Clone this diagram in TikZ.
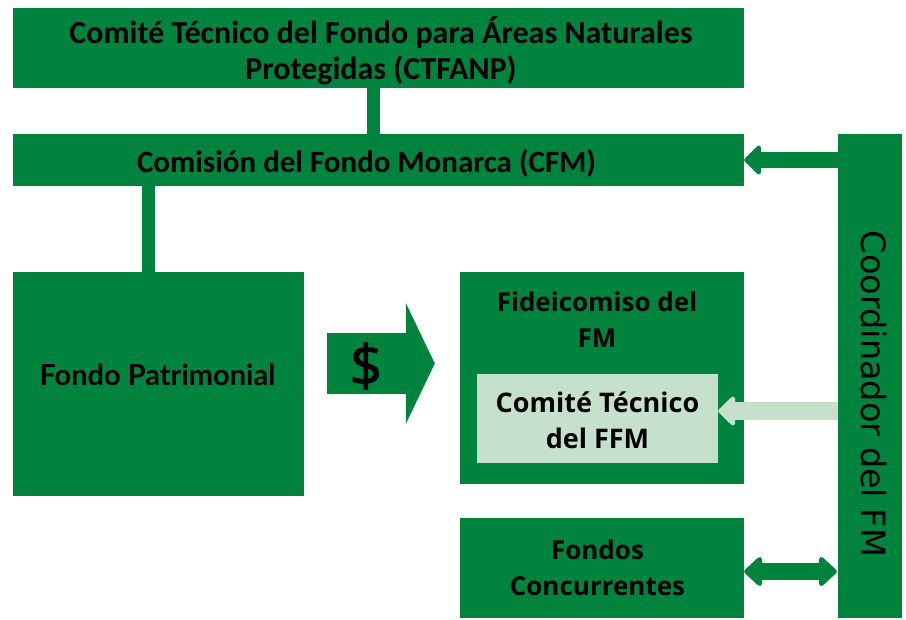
\documentclass[tikz,border=0pt]{standalone}
\usepackage{fontspec}
\setmainfont{Carlito}
\newfontfamily\latofont{Lato}
\newfontfamily\osfont{Open Sans}
\newfontfamily\djfont{DejaVu Sans}
\usetikzlibrary{arrows.meta}
\definecolor{fmgreen}{RGB}{0,132,61}
\definecolor{fmlight}{RGB}{197,224,203}
\tikzset{
  gbox/.style={fill=fmgreen, draw=none, inner sep=0pt, align=center, text=black},
  lbox/.style={fill=fmlight, draw=none, inner sep=0pt, align=center, text=black},
  link/.style={draw=fmgreen, line width=13pt},
  txt/.style={inner sep=0pt, align=center, text=black},
}
\begin{document}
\begin{tikzpicture}[x=1pt,y=-1pt]
\useasboundingbox (0,0) rectangle (906,620);
% boxes
\node[gbox, minimum width=731pt, minimum height=80pt] (ctfanp) at (378.5,48) {};
\node[txt, font=\bfseries\fontsize{32}{36}\selectfont] (ctfanpt) at (381,51) {Comité Técnico del Fondo para Áreas Naturales\\Protegidas (CTFANP)};
\node[gbox, minimum width=731pt, minimum height=52pt] (cfm) at (378.5,160) {};
\node[txt, font=\bfseries\fontsize{31}{36}\selectfont] (cfmt) at (366.5,163) {Comisión del Fondo Monarca (CFM)};
\node[gbox, minimum width=291pt, minimum height=224pt] (fp) at (158.5,384) {};
\node[txt, font=\latofont\bfseries\fontsize{29}{34}\selectfont] (fpt) at (157.5,375) {Fondo Patrimonial};
\node[gbox, minimum width=284pt, minimum height=212pt] (fid) at (602,378) {};
\node[txt, font=\osfont\bfseries\fontsize{26}{36}\selectfont] (fidt) at (597,320) {Fideicomiso del\\FM};
\node[lbox, minimum width=241pt, minimum height=89pt] (ctffm) at (597.5,418.5) {};
\node[txt, font=\osfont\bfseries\fontsize{27}{36}\selectfont] (ctffmt) at (597.5,420) {Comité Técnico\\del FFM};
\node[gbox, minimum width=284pt, minimum height=100pt] (fc) at (602,568) {};
\node[txt, font=\osfont\bfseries\fontsize{26}{36}\selectfont] (fct) at (597.5,568) {Fondos\\Concurrentes};
\node[gbox, minimum width=64pt, minimum height=484pt] (coord) at (870,376) {};
\node[txt, font=\djfont\fontsize{33.5}{38}\selectfont, rotate=-90] (coordt) at (874,394) {Coordinador del FM};
% links
\draw[link] (373.5,0 |- ctfanp.south) -- (373.5,0 |- cfm.north);
\draw[link] (148,0 |- cfm.south) -- (148,0 |- fp.north);
% arrows
\coordinate (a1s) at (coord.west |- 0,160);
\coordinate (a1e) at (cfm.east |- 0,160);
\draw[draw=fmgreen, line width=16pt, -{Triangle[width=34pt,length=18pt,round]}] (a1s) -- (a1e);
\coordinate (a2s) at (coord.west |- 0,411);
\coordinate (a2e) at (ctffm.east |- 0,411);
\draw[draw=fmlight, line width=18pt, -{Triangle[width=34pt,length=18pt,round]}] (a2s) -- (a2e);
\coordinate (a3s) at ([xshift=-1pt]coord.west |- 0,571.5);
\coordinate (a3e) at (fc.east |- 0,571.5);
\draw[draw=fmgreen, line width=17pt, {Triangle[width=34pt,length=19pt,round]}-{Triangle[width=34pt,length=19pt,round]}] (a3s) -- (a3e);
\coordinate (a4s) at ([xshift=23pt]fp.east |- 0,363.5);
\coordinate (a4e) at ([xshift=-25pt]fid.west |- 0,363.5);
\draw[draw=fmgreen, line width=61pt, -{Triangle[width=120pt,length=29pt]}] (a4s) -- (a4e);
\node[txt, font=\osfont\fontsize{58}{58}\selectfont\addfontfeature{FakeBold=1.5}] (dollar) at (366,366) {\$};
\end{tikzpicture}
\end{document}
